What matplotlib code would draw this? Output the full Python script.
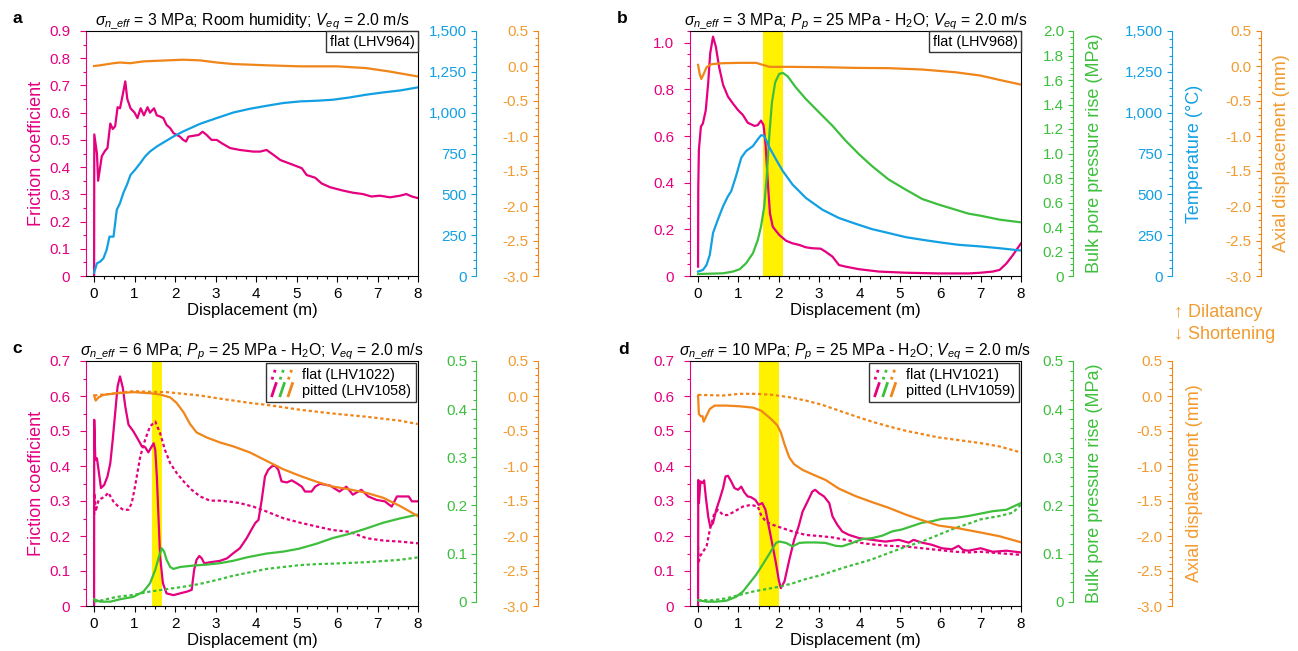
import matplotlib
matplotlib.use("Agg")
import matplotlib.pyplot as plt
import numpy as np
from matplotlib.legend_handler import HandlerBase
from matplotlib.lines import Line2D
from matplotlib.ticker import FuncFormatter

plt.rcParams["font.family"] = ["Liberation Sans", "DejaVu Sans"]
plt.rcParams["mathtext.fontset"] = "custom"
plt.rcParams["mathtext.rm"] = "Liberation Sans"
plt.rcParams["mathtext.it"] = "Liberation Sans:italic"
plt.rcParams["mathtext.bf"] = "Liberation Sans:bold"
plt.rcParams["axes.unicode_minus"] = False

MAG = "#E5007F"
BLUE = "#12A0E3"
GREEN = "#3DBF3D"
ORANGE = "#F08519"
ORANGE_TXT = "#F29B30"
YELLOW = "#FFF100"

# ---- panel a: room humidity, flat (LHV964) ----
a_friction = [(0, 0), (0.005, 0.52), (0.07, 0.45), (0.1, 0.35), (0.19, 0.44), (0.27, 0.46), (0.33, 0.47),
              (0.4, 0.56), (0.46, 0.54), (0.52, 0.55), (0.58, 0.62), (0.64, 0.616), (0.7, 0.66), (0.77, 0.715),
              (0.82, 0.65), (0.9, 0.616), (1.0, 0.6), (1.07, 0.58), (1.15, 0.616), (1.23, 0.59), (1.32, 0.62),
              (1.38, 0.6), (1.48, 0.616), (1.55, 0.59), (1.63, 0.586), (1.71, 0.58), (1.79, 0.555), (1.88, 0.543),
              (1.96, 0.525), (2.04, 0.518), (2.12, 0.512), (2.2, 0.5), (2.27, 0.494), (2.33, 0.512), (2.45, 0.515),
              (2.58, 0.518), (2.68, 0.53), (2.78, 0.518), (2.9, 0.5), (3.03, 0.5), (3.15, 0.488), (3.36, 0.47),
              (3.6, 0.463), (3.93, 0.457), (4.1, 0.457), (4.26, 0.463), (4.43, 0.445), (4.6, 0.426), (4.76, 0.417),
              (4.92, 0.408), (5.13, 0.396), (5.25, 0.371), (5.46, 0.361), (5.62, 0.34), (5.83, 0.326), (6.14, 0.314),
              (6.39, 0.306), (6.64, 0.301), (6.85, 0.292), (7.06, 0.295), (7.31, 0.289), (7.56, 0.295),
              (7.71, 0.301), (7.85, 0.292), (8.0, 0.286)]
a_temperature = [(0, 20), (0.07, 78), (0.15, 88), (0.23, 108), (0.31, 160), (0.38, 241), (0.48, 241), (0.56, 405),
                 (0.64, 446), (0.72, 507), (0.81, 558), (0.9, 619), (1.01, 650), (1.14, 691), (1.26, 732),
                 (1.38, 762), (1.55, 793), (1.71, 817), (1.96, 854), (2.2, 885), (2.62, 932), (3.03, 967),
                 (3.44, 1001), (3.85, 1024), (4.26, 1042), (4.67, 1059), (5.09, 1069), (5.5, 1073), (5.89, 1079),
                 (6.31, 1093), (6.72, 1110), (7.14, 1124), (7.56, 1136), (8.0, 1155)]
a_axial = [(0, 0.0), (0.15, 0.01), (0.48, 0.04), (0.64, 0.05), (0.89, 0.04), (1.22, 0.066), (1.79, 0.08),
           (2.2, 0.09), (2.62, 0.08), (3.03, 0.05), (3.44, 0.028), (4.26, 0.01), (5.09, -0.005), (6.0, -0.005),
           (6.72, -0.03), (7.31, -0.08), (8.0, -0.15)]

# ---- panel b: Pp = 25 MPa H2O, flat (LHV968) ----
b_friction = [(0, 0.04), (0.005, 0.38), (0.02, 0.54), (0.07, 0.64), (0.12, 0.654), (0.19, 0.71), (0.25, 0.826),
              (0.3, 0.954), (0.37, 1.026), (0.44, 0.983), (0.52, 0.897), (0.62, 0.819), (0.74, 0.769),
              (0.86, 0.74), (0.99, 0.711), (1.11, 0.69), (1.23, 0.657), (1.4, 0.643), (1.48, 0.647),
              (1.56, 0.666), (1.62, 0.647), (1.67, 0.569), (1.73, 0.397), (1.78, 0.269), (1.85, 0.211),
              (2.01, 0.176), (2.18, 0.151), (2.34, 0.14), (2.51, 0.133), (2.67, 0.123), (2.83, 0.119),
              (3.04, 0.117), (3.16, 0.104), (3.33, 0.083), (3.49, 0.047), (3.66, 0.04), (3.99, 0.029),
              (4.48, 0.019), (5.14, 0.014), (5.96, 0.011), (6.7, 0.011), (7.0, 0.014), (7.3, 0.019),
              (7.47, 0.026), (7.64, 0.054), (7.8, 0.09), (8.0, 0.14)]
b_temperature = [(0, 27), (0.12, 37), (0.21, 68), (0.29, 129), (0.37, 263), (0.49, 345), (0.62, 427), (0.74, 488),
                 (0.82, 519), (0.94, 611), (1.07, 724), (1.19, 765), (1.36, 796), (1.48, 837), (1.56, 862),
                 (1.64, 858), (1.77, 786), (1.93, 714), (2.1, 642), (2.34, 560), (2.67, 478), (3.08, 406),
                 (3.49, 355), (3.9, 320), (4.31, 287), (4.72, 263), (5.14, 238), (5.55, 222), (5.96, 207),
                 (6.45, 191), (7.0, 181), (7.47, 170), (8.0, 156)]
b_pore = [(0, 0.016), (0.62, 0.022), (0.86, 0.036), (1.03, 0.055), (1.19, 0.104), (1.36, 0.186), (1.48, 0.295),
          (1.56, 0.405), (1.64, 0.569), (1.7, 0.815), (1.77, 1.171), (1.83, 1.417), (1.91, 1.581), (2.01, 1.65),
          (2.1, 1.658), (2.22, 1.63), (2.42, 1.54), (2.67, 1.445), (3.0, 1.335), (3.33, 1.226), (3.66, 1.103),
          (3.99, 0.993), (4.31, 0.897), (4.72, 0.788), (5.14, 0.706), (5.55, 0.629), (5.96, 0.583),
          (6.37, 0.542), (6.7, 0.509), (7.0, 0.492), (7.47, 0.46), (8.0, 0.438)]
b_axial = [(0, 0.016), (0.04, -0.113), (0.08, -0.185), (0.14, -0.113), (0.21, -0.017), (0.33, 0.026),
           (0.62, 0.04), (1.03, 0.045), (1.44, 0.045), (1.6, 0.016), (1.77, -0.012), (2.26, -0.012),
           (3.08, -0.017), (3.9, -0.027), (4.72, -0.031), (5.55, -0.05), (6.37, -0.089), (7.0, -0.137),
           (7.47, -0.199), (8.0, -0.266)]

# ---- panel c: 6 MPa, flat (LHV1022) vs pitted (LHV1058) ----
c_friction_pitted = [(0, 0), (0.003, 0.532), (0.03, 0.418), (0.07, 0.422), (0.11, 0.389), (0.17, 0.337),
                     (0.25, 0.346), (0.33, 0.37), (0.4, 0.408), (0.46, 0.475), (0.52, 0.551), (0.58, 0.627),
                     (0.64, 0.656), (0.71, 0.623), (0.77, 0.57), (0.85, 0.518), (0.97, 0.499), (1.09, 0.475),
                     (1.18, 0.456), (1.26, 0.454), (1.34, 0.439), (1.4, 0.451), (1.47, 0.465), (1.51, 0.446),
                     (1.55, 0.37), (1.59, 0.256), (1.63, 0.141), (1.7, 0.065), (1.79, 0.036), (1.96, 0.031),
                     (2.12, 0.036), (2.29, 0.041), (2.41, 0.046), (2.47, 0.103), (2.53, 0.132), (2.6, 0.143),
                     (2.66, 0.136), (2.72, 0.122), (2.86, 0.125), (3.11, 0.129), (3.28, 0.136), (3.44, 0.151),
                     (3.6, 0.165), (3.77, 0.194), (3.89, 0.219), (3.98, 0.237), (4.06, 0.246), (4.14, 0.303),
                     (4.22, 0.37), (4.3, 0.389), (4.39, 0.399), (4.47, 0.401), (4.55, 0.389), (4.63, 0.356),
                     (4.76, 0.353), (4.88, 0.359), (5.0, 0.351), (5.13, 0.341), (5.21, 0.327), (5.37, 0.327),
                     (5.46, 0.341), (5.58, 0.349), (5.83, 0.344), (6.06, 0.327), (6.23, 0.341), (6.39, 0.318),
                     (6.6, 0.332), (6.77, 0.313), (6.98, 0.303), (7.18, 0.299), (7.35, 0.284), (7.48, 0.313),
                     (7.64, 0.313), (7.77, 0.313), (7.85, 0.299), (8.0, 0.299)]
c_friction_flat = [(0, 0.26), (0.01, 0.322), (0.04, 0.27), (0.11, 0.303), (0.19, 0.308), (0.27, 0.313),
                   (0.35, 0.324), (0.48, 0.298), (0.6, 0.284), (0.72, 0.275), (0.85, 0.275), (0.93, 0.294),
                   (1.01, 0.341), (1.14, 0.427), (1.26, 0.475), (1.38, 0.513), (1.51, 0.527), (1.63, 0.494),
                   (1.75, 0.446), (1.88, 0.408), (2.04, 0.38), (2.21, 0.356), (2.41, 0.332), (2.62, 0.313),
                   (2.86, 0.301), (3.11, 0.301), (3.36, 0.298), (3.6, 0.294), (3.93, 0.284), (4.26, 0.27),
                   (4.67, 0.251), (5.09, 0.238), (5.5, 0.227), (5.89, 0.217), (6.31, 0.212), (6.72, 0.194),
                   (7.14, 0.187), (7.56, 0.184), (8.0, 0.179)]
c_pore_pitted = [(0, 0.005), (0.15, 0.0), (0.4, 0.0), (0.64, 0.005), (0.97, 0.01), (1.22, 0.021), (1.38, 0.038),
                 (1.51, 0.066), (1.59, 0.09), (1.67, 0.111), (1.73, 0.104), (1.79, 0.087), (1.88, 0.072),
                 (1.96, 0.068), (2.12, 0.072), (2.45, 0.075), (2.78, 0.077), (3.11, 0.08), (3.44, 0.085),
                 (3.77, 0.092), (4.26, 0.1), (4.67, 0.104), (5.06, 0.11), (5.48, 0.12), (5.89, 0.132),
                 (6.31, 0.141), (6.72, 0.152), (7.14, 0.164), (7.56, 0.173), (8.0, 0.181)]
c_pore_flat = [(0, 0.0), (0.15, 0.002), (0.56, 0.01), (0.97, 0.014), (1.38, 0.021), (1.79, 0.026), (2.21, 0.031),
               (2.62, 0.037), (3.03, 0.045), (3.44, 0.054), (3.85, 0.061), (4.26, 0.068), (4.67, 0.072),
               (5.09, 0.076), (5.5, 0.078), (5.89, 0.079), (6.72, 0.082), (7.56, 0.087), (8.0, 0.092)]
c_axial_pitted = [(0, 0.007), (0.04, -0.065), (0.11, -0.02), (0.23, 0.016), (0.56, 0.04), (0.97, 0.055),
                  (1.38, 0.04), (1.63, 0.021), (1.88, -0.02), (2.04, -0.1), (2.21, -0.233), (2.37, -0.4),
                  (2.53, -0.52), (2.78, -0.592), (3.11, -0.664), (3.44, -0.72), (3.85, -0.807), (4.26, -0.927),
                  (4.67, -1.046), (5.09, -1.142), (5.5, -1.226), (5.86, -1.29), (6.31, -1.334), (6.72, -1.382),
                  (7.14, -1.454), (7.56, -1.573), (8.0, -1.717)]
c_axial_flat = [(0, 0.007), (0.56, 0.04), (0.97, 0.069), (1.38, 0.06), (1.79, 0.055), (2.21, 0.031),
                (2.62, 0.007), (3.03, -0.031), (3.44, -0.065), (3.85, -0.099), (4.26, -0.127), (4.67, -0.161),
                (5.09, -0.197), (5.89, -0.25), (6.72, -0.296), (7.56, -0.353), (8.0, -0.401)]

# ---- panel d: 10 MPa, flat (LHV1021) vs pitted (LHV1059) ----
d_friction_pitted = [(0, 0), (0.005, 0.36), (0.02, 0.294), (0.06, 0.356), (0.11, 0.351), (0.15, 0.359),
                     (0.19, 0.313), (0.25, 0.256), (0.3, 0.227), (0.37, 0.237), (0.45, 0.275), (0.53, 0.303),
                     (0.62, 0.337), (0.68, 0.37), (0.74, 0.372), (0.82, 0.356), (0.9, 0.337), (0.99, 0.332),
                     (1.07, 0.341), (1.15, 0.324), (1.23, 0.313), (1.31, 0.311), (1.42, 0.303), (1.5, 0.289),
                     (1.59, 0.294), (1.67, 0.275), (1.77, 0.217), (1.85, 0.17), (1.93, 0.122), (2.0, 0.074),
                     (2.05, 0.051), (2.14, 0.07), (2.26, 0.132), (2.38, 0.189), (2.49, 0.227), (2.59, 0.27),
                     (2.71, 0.298), (2.83, 0.327), (2.9, 0.332), (3.0, 0.322), (3.12, 0.313), (3.25, 0.294),
                     (3.33, 0.256), (3.45, 0.232), (3.57, 0.213), (3.74, 0.203), (3.99, 0.194), (4.31, 0.189),
                     (4.64, 0.184), (4.97, 0.189), (5.22, 0.181), (5.34, 0.189), (5.55, 0.181), (5.79, 0.175),
                     (6.04, 0.165), (6.29, 0.162), (6.45, 0.172), (6.57, 0.16), (6.7, 0.158), (7.0, 0.165),
                     (7.3, 0.155), (7.64, 0.158), (8.0, 0.153)]
d_friction_flat = [(0, 0.17), (0.01, 0.122), (0.04, 0.141), (0.12, 0.155), (0.21, 0.17), (0.29, 0.217),
                   (0.39, 0.26), (0.49, 0.275), (0.62, 0.26), (0.74, 0.26), (0.9, 0.27), (1.11, 0.284),
                   (1.31, 0.289), (1.48, 0.284), (1.56, 0.26), (1.68, 0.241), (1.85, 0.232), (2.1, 0.222),
                   (2.34, 0.213), (2.67, 0.203), (3.0, 0.2), (3.33, 0.196), (3.66, 0.189), (3.99, 0.181),
                   (4.31, 0.176), (4.72, 0.172), (5.14, 0.17), (5.55, 0.165), (5.96, 0.16), (6.37, 0.155),
                   (6.7, 0.153), (7.0, 0.155), (8.0, 0.146)]
d_pore_pitted = [(0, 0.003), (0.21, 0.0), (0.45, 0.0), (0.7, 0.002), (0.94, 0.01), (1.11, 0.021), (1.27, 0.038),
                 (1.44, 0.056), (1.6, 0.077), (1.77, 0.1), (1.93, 0.122), (2.01, 0.125), (2.18, 0.122),
                 (2.34, 0.115), (2.51, 0.122), (2.67, 0.123), (2.92, 0.123), (3.16, 0.122), (3.41, 0.116),
                 (3.57, 0.115), (3.82, 0.122), (4.07, 0.13), (4.31, 0.132), (4.56, 0.137), (4.81, 0.146),
                 (5.05, 0.15), (5.3, 0.157), (5.55, 0.164), (5.79, 0.167), (6.04, 0.172), (6.37, 0.174),
                 (6.7, 0.178), (7.0, 0.183), (7.3, 0.188), (7.64, 0.191), (8.0, 0.205)]
d_pore_flat = [(0, 0.003), (0.37, 0.003), (0.7, 0.007), (1.03, 0.014), (1.36, 0.021), (1.68, 0.026),
               (2.01, 0.031), (2.34, 0.038), (2.67, 0.047), (3.0, 0.054), (3.33, 0.063), (3.66, 0.072),
               (3.99, 0.08), (4.31, 0.088), (4.72, 0.101), (5.14, 0.114), (5.55, 0.125), (5.96, 0.139),
               (6.37, 0.153), (6.7, 0.162), (7.0, 0.171), (7.47, 0.178), (7.8, 0.185), (8.0, 0.202)]
d_axial_pitted = [(0, 0.007), (0.02, -0.257), (0.07, -0.29), (0.11, -0.29), (0.14, -0.367), (0.19, -0.304),
                  (0.29, -0.185), (0.41, -0.137), (0.7, -0.137), (1.03, -0.147), (1.36, -0.166), (1.56, -0.209),
                  (1.73, -0.29), (1.85, -0.352), (1.97, -0.424), (2.05, -0.52), (2.14, -0.688), (2.26, -0.879),
                  (2.38, -0.975), (2.59, -1.056), (2.83, -1.118), (3.16, -1.2), (3.49, -1.324), (3.9, -1.43),
                  (4.31, -1.516), (4.72, -1.597), (5.14, -1.693), (5.55, -1.774), (5.96, -1.851),
                  (6.45, -1.89), (7.0, -1.95), (7.47, -2.004), (8.0, -2.09)]
d_axial_flat = [(0, 0.016), (0.62, 0.007), (1.03, 0.031), (1.44, 0.031), (1.85, 0.016), (2.26, -0.017),
                (2.67, -0.065), (3.08, -0.127), (3.49, -0.209), (3.9, -0.29), (4.31, -0.367), (4.72, -0.434),
                (5.14, -0.496), (5.55, -0.544), (5.96, -0.592), (6.45, -0.63), (7.0, -0.673), (7.47, -0.721),
                (8.0, -0.807)]

# shaded weakening windows (m)
b_band = (1.6, 2.1)
c_band = (1.42, 1.67)
d_band = (1.52, 2.0)

LW = 1.6
FLAT_LS = (0, (1.5, 1.2))
TICK_FS = 11
LABEL_FS = 13


def fmt_zero(v, _):
    return "0" if abs(v) < 1e-9 else f"{v:.1f}"


def fmt_orange(v, _):
    return f"{v:.1f}"


def fmt_temp(v, _):
    return f"{v:,.0f}"


def ticks(lo, hi, step):
    return np.round(np.arange(lo, hi + step / 2, step), 4)


class SlashHandler(HandlerBase):
    def create_artists(self, legend, orig_handle, xdescent, ydescent, width, height, fontsize, trans):
        arts = []
        step = width / len(orig_handle)
        for i, h in enumerate(orig_handle):
            x0 = -xdescent + i * step + 0.15 * step
            ln = Line2D([x0, x0 + 0.5 * step], [-ydescent - 0.1 * height, -ydescent + 1.1 * height],
                        color=h.get_color(), lw=h.get_linewidth(), linestyle=h.get_linestyle())
            ln.set_transform(trans)
            arts.append(ln)
        return arts


def host_axes(fig, rect, ymax, ymajor, title, ylabel=None):
    ax = fig.add_axes(rect)
    ax.set_xlim(-0.2, 8)
    ax.set_ylim(0, ymax)
    ax.set_xticks(ticks(0, 8, 1))
    ax.set_xticks(ticks(0, 8, 0.25), minor=True)
    ax.set_yticks(ticks(0, ymax, ymajor))
    ax.set_yticks(ticks(0, ymax, 0.05), minor=True)
    ax.yaxis.set_major_formatter(FuncFormatter(fmt_zero))
    ax.tick_params(axis="x", which="major", length=4, width=0.8, pad=4, labelsize=TICK_FS)
    ax.tick_params(axis="x", which="minor", length=2.2, width=0.8)
    ax.tick_params(axis="y", which="both", colors=MAG, width=0.8)
    ax.tick_params(axis="y", which="major", length=4, pad=7.5, labelsize=TICK_FS)
    ax.tick_params(axis="y", which="minor", length=2.2)
    for s in ax.spines.values():
        s.set_linewidth(0.8)
    ax.spines["left"].set_color(MAG)
    ax.set_xlabel("Displacement (m)", fontsize=12, labelpad=1)
    if ylabel:
        ax.set_ylabel(ylabel, color=MAG, fontsize=LABEL_FS, labelpad=3)
    ax.set_title(title, fontsize=11.3, pad=3)
    return ax


def side_axis(ax, pos, color, lo, hi, major, minor, fmt, label=None, label_x=None, bounds=None, txt=None):
    txt = txt or color
    tw = ax.twinx()
    tw.set_ylim(lo, hi)
    for s in ("top", "bottom", "right"):
        tw.spines[s].set_visible(False)
    sp = tw.spines["left"]
    sp.set_position(("axes", pos))
    sp.set_color(color)
    sp.set_linewidth(0.8)
    if bounds:
        sp.set_bounds(*bounds)
    tw.yaxis.tick_left()
    tw.set_yticks(major)
    tw.set_yticks(minor, minor=True)
    tw.yaxis.set_major_formatter(FuncFormatter(fmt))
    tw.tick_params(axis="y", which="both", color=color, labelcolor=txt, width=0.8, direction="out")
    tw.tick_params(axis="y", which="major", length=3.5, labelsize=TICK_FS, pad=3)
    tw.tick_params(axis="y", which="minor", length=2.2)
    if label:
        tw.set_ylabel(label, color=txt, fontsize=LABEL_FS)
        tw.yaxis.set_label_position("right")
        tw.yaxis.set_label_coords(label_x, 0.5)
    return tw


def draw(ax, series, color, flat=False):
    xy = np.array(series).T
    ax.plot(xy[0], xy[1], color=color, lw=LW, linestyle=FLAT_LS if flat else "-")


def sample_box(ax, text):
    ax.text(0.99, 0.985, text, transform=ax.transAxes, ha="right", va="top", fontsize=10.4,
            bbox=dict(boxstyle="square,pad=0.25", fc="white", ec="#333333", lw=1.0))


def pair_legend(ax, flat_name, pitted_name):
    flat = tuple(Line2D([], [], color=c, lw=2, ls=":") for c in (MAG, GREEN, ORANGE))
    pitted = tuple(Line2D([], [], color=c, lw=2, ls="-") for c in (MAG, GREEN, ORANGE))
    leg = ax.legend([flat, pitted], [flat_name, pitted_name], handler_map={tuple: SlashHandler()},
                    loc="upper right", bbox_to_anchor=(1.0, 1.0), borderaxespad=0.15, fontsize=10.4,
                    handlelength=1.7, handletextpad=0.5, labelspacing=0.15, borderpad=0.3,
                    fancybox=False, framealpha=1)
    leg.get_frame().set_edgecolor("#333333")
    leg.get_frame().set_linewidth(1.0)


fig = plt.figure(figsize=(12.98, 6.51), dpi=100)
W, H = 1298, 651
rect_a = [86 / W, 375 / H, 332 / W, 245 / H]
rect_b = [690 / W, 375 / H, 331 / W, 245 / H]
rect_c = [86 / W, 45 / H, 332 / W, 245 / H]
rect_d = [690 / W, 45 / H, 331 / W, 245 / H]

temp_major, temp_minor = ticks(0, 1500, 250), ticks(0, 1500, 50)
ax_major, ax_minor = ticks(-3, 0.5, 0.5), ticks(-3, 0.5, 0.1)

# a
ax = host_axes(fig, rect_a, 0.9, 0.1,
               r"$\sigma_{n\_eff}$ = 3 MPa; Room humidity; $V_{eq}$ = 2.0 m/s", "Friction coefficient")
draw(ax, a_friction, MAG)
tT = side_axis(ax, 1.175, BLUE, 0, 1500, temp_major, temp_minor, fmt_temp)
draw(tT, a_temperature, BLUE)
tA = side_axis(ax, 1.361, ORANGE, -3, 0.5, ax_major, ax_minor, fmt_orange, txt=ORANGE_TXT)
draw(tA, a_axial, ORANGE)
sample_box(ax, "flat (LHV964)")

# b
ax = host_axes(fig, rect_b, 1.05, 0.2,
               r"$\sigma_{n\_eff}$ = 3 MPa; $P_p$ = 25 MPa - H$_2$O; $V_{eq}$ = 2.0 m/s")
ax.axvspan(*b_band, color=YELLOW, lw=0, zorder=0)
draw(ax, b_friction, MAG)
tP = side_axis(ax, 1.157, GREEN, 0, 2.0, ticks(0, 2, 0.2), ticks(0, 2, 0.05), fmt_zero,
               "Bulk pore pressure rise (MPa)", 1.197)
draw(tP, b_pore, GREEN)
tT = side_axis(ax, 1.456, BLUE, 0, 1500, temp_major, temp_minor, fmt_temp, "Temperature (°C)", 1.497)
draw(tT, b_temperature, BLUE)
tA = side_axis(ax, 1.725, ORANGE, -3, 0.5, ax_major, ax_minor, fmt_orange,
               "Axial displacement (mm)", 1.76, txt=ORANGE_TXT)
draw(tA, b_axial, ORANGE)
sample_box(ax, "flat (LHV968)")

# c
ax = host_axes(fig, rect_c, 0.7, 0.1,
               r"$\sigma_{n\_eff}$ = 6 MPa; $P_p$ = 25 MPa - H$_2$O; $V_{eq}$ = 2.0 m/s", "Friction coefficient")
ax.axvspan(*c_band, color=YELLOW, lw=0, zorder=0)
draw(ax, c_friction_flat, MAG, flat=True)
draw(ax, c_friction_pitted, MAG)
tP = side_axis(ax, 1.175, GREEN, -0.009, 0.5, ticks(0, 0.5, 0.1), ticks(0, 0.5, 0.02), fmt_zero,
               bounds=(0, 0.5))
draw(tP, c_pore_flat, GREEN, flat=True)
draw(tP, c_pore_pitted, GREEN)
tA = side_axis(ax, 1.361, ORANGE, -3, 0.5, ax_major, ax_minor, fmt_orange, txt=ORANGE_TXT)
draw(tA, c_axial_flat, ORANGE, flat=True)
draw(tA, c_axial_pitted, ORANGE)
pair_legend(tA, "flat (LHV1022)", "pitted (LHV1058)")

# d
ax = host_axes(fig, rect_d, 0.7, 0.1,
               r"$\sigma_{n\_eff}$ = 10 MPa; $P_p$ = 25 MPa - H$_2$O; $V_{eq}$ = 2.0 m/s")
ax.axvspan(*d_band, color=YELLOW, lw=0, zorder=0)
draw(ax, d_friction_flat, MAG, flat=True)
draw(ax, d_friction_pitted, MAG)
tP = side_axis(ax, 1.157, GREEN, -0.009, 0.5, ticks(0, 0.5, 0.1), ticks(0, 0.5, 0.02), fmt_zero,
               "Bulk pore pressure rise (MPa)", 1.197, bounds=(0, 0.5))
draw(tP, d_pore_flat, GREEN, flat=True)
draw(tP, d_pore_pitted, GREEN)
tA = side_axis(ax, 1.456, ORANGE, -3, 0.5, ax_major, ax_minor, fmt_orange,
               "Axial displacement (mm)", 1.497, txt=ORANGE_TXT)
draw(tA, d_axial_flat, ORANGE, flat=True)
draw(tA, d_axial_pitted, ORANGE)
pair_legend(tA, "flat (LHV1021)", "pitted (LHV1059)")

# panel letters
for letter, (x, y) in {"a": (12, 23), "b": (617, 23), "c": (12, 353), "d": (618, 354)}.items():
    fig.text(x / W, 1 - y / H, letter, fontsize=12.5, fontweight="bold", va="baseline")

fig.text(1174 / W, 1 - 317 / H, "↑ Dilatancy", color=ORANGE_TXT, fontsize=13, va="baseline")
fig.text(1174 / W, 1 - 339 / H, "↓ Shortening", color=ORANGE_TXT, fontsize=13, va="baseline")

fig.savefig("out.png", dpi=100)
